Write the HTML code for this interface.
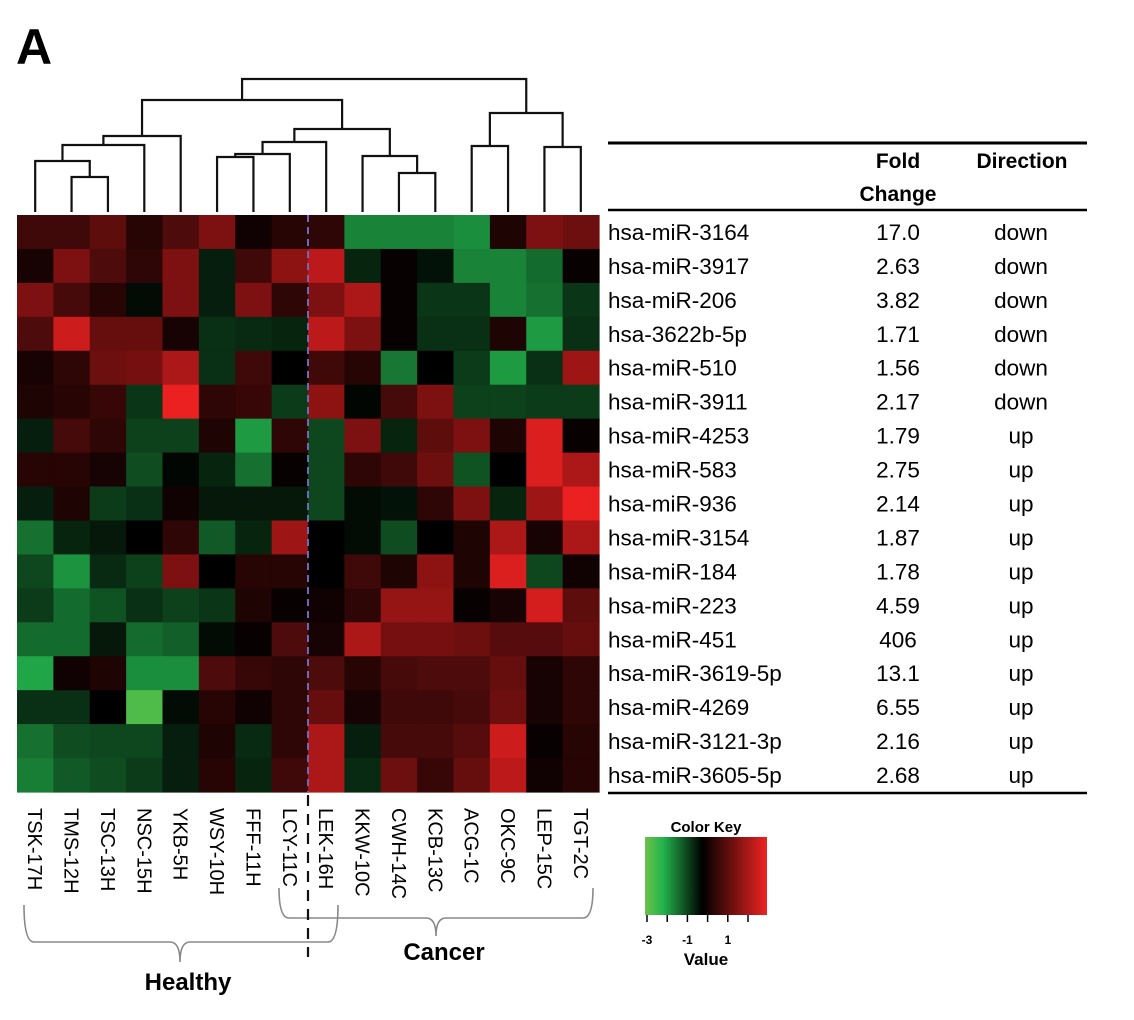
<!DOCTYPE html>
<html><head><meta charset="utf-8"><style>
html,body{margin:0;padding:0;background:#fff;}
svg{display:block;font-family:"Liberation Sans",sans-serif;}
</style></head><body>
<svg id="chart" width="1134" height="1020" viewBox="0 0 1134 1020">
<text x="16" y="64" font-size="50" font-weight="bold">A</text>
<g id="dendro"></g>
<g id="cells"></g>
<g id="collabels"></g>
<g id="table"></g>
<g id="key"></g>
</svg>
<script>
const samples=["TSK-17H","TMS-12H","TSC-13H","NSC-15H","YKB-5H","WSY-10H","FFF-11H","LCY-11C","LEK-16H","KKW-10C","CWH-14C","KCB-13C","ACG-1C","OKC-9C","LEP-15C","TGT-2C"];
const mirnas=["hsa-miR-3164","hsa-miR-3917","hsa-miR-206","hsa-3622b-5p","hsa-miR-510","hsa-miR-3911","hsa-miR-4253","hsa-miR-583","hsa-miR-936","hsa-miR-3154","hsa-miR-184","hsa-miR-223","hsa-miR-451","hsa-miR-3619-5p","hsa-miR-4269","hsa-miR-3121-3p","hsa-miR-3605-5p"];
const foldChange=["17.0","2.63","3.82","1.71","1.56","2.17","1.79","2.75","2.14","1.87","1.78","4.59","406","13.1","6.55","2.16","2.68"];
const direction=["down","down","down","down","down","down","up","up","up","up","up","up","up","up","up","up","up"];
const values=[
[0.8,0.8,1.2,0.5,1.0,1.6,0.2,0.5,0.6,-2.2,-2.2,-2.2,-2.4,0.4,1.6,1.4],
[0.3,1.6,1.0,0.6,1.6,-0.5,0.8,1.8,2.4,-0.6,0.1,-0.3,-2.2,-2.2,-1.8,0.1],
[1.6,0.9,0.5,-0.2,1.6,-0.5,1.6,0.6,1.6,2.2,0.1,-0.9,-0.9,-2.2,-1.9,-0.9],
[1.0,2.6,1.3,1.3,0.3,-0.8,-0.7,-0.6,2.4,1.6,0.1,-0.8,-0.8,0.4,-2.6,-0.8],
[0.3,0.6,1.4,1.5,2.2,-0.8,0.8,0.0,0.8,0.5,-2.0,0.0,-1.0,-2.6,-0.8,2.0],
[0.4,0.5,0.7,-0.9,3.0,0.6,0.7,-1.0,1.8,-0.1,0.9,1.6,-1.1,-1.1,-1.0,-1.0],
[-0.5,0.9,0.6,-1.1,-1.1,0.4,-2.6,0.6,-1.2,1.6,-0.6,1.2,1.6,0.4,2.8,0.1],
[0.5,0.5,0.3,-1.3,-0.1,-0.6,-1.9,0.1,-1.2,0.6,0.8,1.4,-1.4,0.0,2.8,2.2],
[-0.5,0.4,-1.0,-0.8,0.2,-0.4,-0.4,-0.4,-1.2,-0.2,-0.3,0.6,1.6,-0.6,2.0,3.0],
[-1.9,-0.6,-0.4,0.0,0.6,-1.5,-0.6,2.0,0.0,-0.2,-1.3,0.0,0.4,2.2,0.3,2.2],
[-1.2,-2.5,-0.7,-1.1,1.6,0.0,0.5,0.5,0.0,0.8,0.4,1.8,0.4,2.8,-1.2,0.2],
[-1.0,-1.8,-1.4,-0.8,-1.1,-0.9,0.4,0.1,0.2,0.6,1.9,1.9,0.1,0.3,2.7,1.2],
[-1.8,-1.8,-0.4,-1.8,-1.6,-0.2,0.1,1.0,0.3,2.2,1.5,1.5,1.4,1.1,1.1,1.3],
[-2.8,0.2,0.4,-2.4,-2.4,1.0,0.7,0.6,1.0,0.5,0.9,1.0,1.0,1.3,0.3,0.6],
[-0.8,-0.8,0.0,-3.6,-0.2,0.5,0.2,0.6,1.3,0.3,0.8,0.8,0.9,1.4,0.3,0.6],
[-1.9,-1.3,-1.2,-1.2,-0.5,0.4,-0.7,0.6,2.2,-0.5,0.9,0.9,1.1,2.6,0.1,0.5],
[-2.1,-1.5,-1.3,-1.0,-0.5,0.5,-0.6,0.8,2.2,-0.7,1.4,0.7,1.3,2.4,0.2,0.5]];
// dendrogram merges: [left, right, height]; leaves 0..15, new nodes numbered from 16
const merges=[[1,2,35],[0,16,51],[17,3,67],[18,4,76],[5,6,55],[20,7,58],[21,8,70],[10,11,39],[9,23,56],[22,24,83],[19,25,112],[12,13,66],[14,15,65],[27,28,99],[26,29,133]];
const keyTicks=[-3,-2,-1,0,1,2];
const keyTickLabels=["-3","","-1","","1",""];

const NS="http://www.w3.org/2000/svg";
const X0=17,X1=599,Y0=215,Y1=792;
const cw=(X1-X0)/samples.length, rh=(Y1-Y0)/mirnas.length;
const xCol=i=>X0+cw*i, yRow=j=>Y0+rh*j;
const dBase=212, dScale=1.0; const yD=h=>dBase-h*dScale;
function mk(tag,attrs,parent){const e=document.createElementNS(NS,tag);for(const k in attrs)e.setAttribute(k,attrs[k]);parent.appendChild(e);return e;}
function color(v){
  if(v>=0){const t=Math.min(v/3,1);return `rgb(${Math.round(235*t)},${Math.round(32*t)},${Math.round(32*t)})`;}
  const a=-v;
  if(a<=3){const t=a/3;return `rgb(${Math.round(34*t)},${Math.round(178*t)},${Math.round(76*t)})`;}
  const t=Math.min(a-3,1);return `rgb(${Math.round(34+75*t)},${Math.round(178+16*t)},${Math.round(76-4*t)})`;
}
const cells=document.getElementById('cells');
values.forEach((row,j)=>row.forEach((v,i)=>{
  const r=mk('rect',{x:xCol(i).toFixed(2),y:yRow(j).toFixed(2),width:(cw+0.6).toFixed(2),height:(rh+0.6).toFixed(2),fill:color(v)},cells);
  
  
}));
const dl=mk('line',{x1:308,y1:Y0,x2:308,y2:Y1,stroke:'#6a6ab8','stroke-width':2,'stroke-dasharray':'7,5'},cells);



// dendrogram
const dg=document.getElementById('dendro');
const nx=[],nh=[];
samples.forEach((s,i)=>{nx[i]=xCol(i)+cw/2;nh[i]=0;});
merges.forEach((m,k)=>{
  const id=samples.length+k,[a,b,h]=m;
  nx[id]=(nx[a]+nx[b])/2;nh[id]=h;
  const p=mk('path',{d:`M${nx[a]},${yD(nh[a])}V${yD(h)}H${nx[b]}V${yD(nh[b])}`,fill:'none',stroke:'#111','stroke-width':2.2},dg);
  
  
});

// column labels
const cl=document.getElementById('collabels');
samples.forEach((s,i)=>{
  const cx=xCol(i)+cw/2;
  const t=mk('text',{x:0,y:0,transform:`translate(${cx-7},808) rotate(90)`,'font-size':20},cl);
  t.textContent=s;
  
  
});
const br=mk('g',{fill:'none',stroke:'#888','stroke-width':1.6},cl);


mk('path',{d:'M24,905 Q24,942 34,942 H170 Q180,942 180,962 Q180,942 190,942 H328 Q338,942 338,905'},br);
mk('path',{d:'M279,888 Q279,918 289,918 H426 Q436,918 436,936 Q436,918 446,918 H583 Q593,918 593,888'},br);
const dl2=mk('line',{x1:308,y1:795,x2:308,y2:957,stroke:'#111','stroke-width':2.2,'stroke-dasharray':'11,8'},cl);


const hl=mk('text',{x:188,y:990,'text-anchor':'middle','font-size':24,'font-weight':'bold'},cl);
hl.textContent='Healthy';


const cl2=mk('text',{x:444,y:960,'text-anchor':'middle','font-size':24,'font-weight':'bold'},cl);
cl2.textContent='Cancer';



// table
const tb=document.getElementById('table');
[[143,3],[210,2.5],[793,2.5]].forEach(([y,w])=>{
  const l=mk('line',{x1:608,y1:y,x2:1087,y2:y,stroke:'#000','stroke-width':w},tb);
  
  
});
[["Fold",898,168],["Change",898,201],["Direction",1022,168]].forEach(([s,x,y])=>{
  const t=mk('text',{x:x,y:y,'text-anchor':'middle','font-size':21,'font-weight':'bold'},tb);
  t.textContent=s;
  
  
});
mirnas.forEach((m,j)=>{
  const y=yRow(j)+rh/2+8;
  const a=mk('text',{x:608,y:y,'font-size':22.5},tb);a.textContent=m;
  
  
  const b=mk('text',{x:898,y:y,'text-anchor':'middle','font-size':22.5},tb);b.textContent=foldChange[j];
  
  
  const c=mk('text',{x:1021,y:y,'text-anchor':'middle','font-size':22.5},tb);c.textContent=direction[j];
  
  
});

// color key
const kg=document.getElementById('key');
const defs=mk('defs',{},kg);
const lg=mk('linearGradient',{id:'kg',x1:0,x2:1,y1:0,y2:0},defs);
[[0,'#6cc24a'],[0.15,'#22b24c'],[0.47,'#000'],[1,'#ee2222']].forEach(([o,c])=>mk('stop',{offset:o,'stop-color':c},lg));
const kr=mk('rect',{x:645,y:837,width:122,height:78,fill:'url(#kg)'},kg);


const kt=mk('text',{x:706,y:832,'text-anchor':'middle','font-size':15,'font-weight':'bold'},kg);kt.textContent='Color Key';


const kx=v=>647+(v+3)*20.2;
keyTicks.forEach((v,i)=>{
  const l=mk('line',{x1:kx(v),y1:915,x2:kx(v),y2:922,stroke:'#000','stroke-width':1.5},kg);
  
  
  if(keyTickLabels[i]){
    const t=mk('text',{x:kx(v),y:944,'text-anchor':'middle','font-size':12,'font-weight':'bold'},kg);t.textContent=keyTickLabels[i];
    
    
  }
});
const vt=mk('text',{x:706,y:965,'text-anchor':'middle','font-size':17,'font-weight':'bold'},kg);vt.textContent='Value';


</script>
</body></html>
